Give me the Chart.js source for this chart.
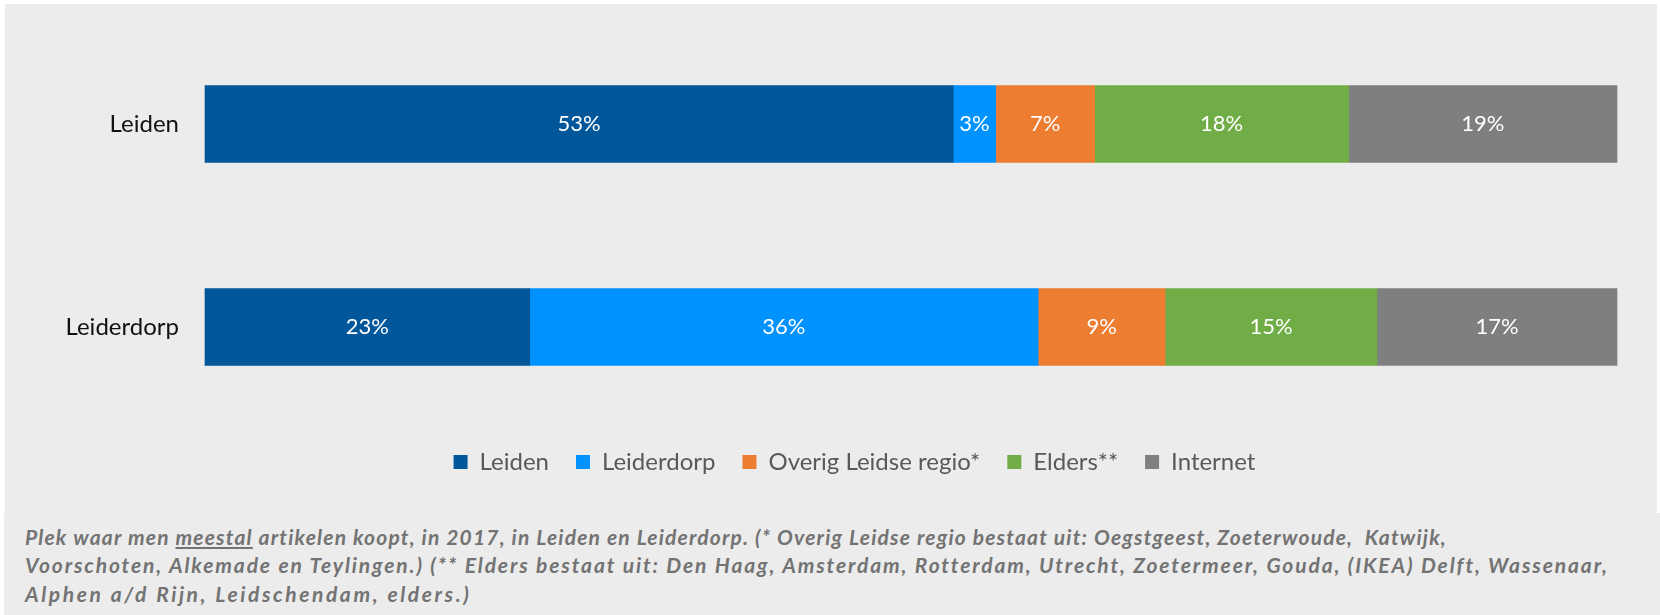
<!DOCTYPE html>
<html>
<head>
<meta charset="utf-8">
<script src="https://cdn.jsdelivr.net/npm/chart.js@4"></script>
<style>
  body { margin: 0; background: #fff; width: 1660px; height: 615px; position: relative; overflow: hidden; }
  #box { position: absolute; left: 5px; top: 4px; width: 1652px; height: 509px; background: #ececec; }
  #note {
    position: absolute; left: 4px; top: 513px; width: 1656px; height: 102px;
    background: #ececec; box-sizing: border-box; padding: 10px 0 0 21px;
    color: #737373; font-family: Lato, sans-serif; font-style: italic; font-weight: 700;
    font-size: 21px; line-height: 28.3px; white-space: pre;
  }
  #note span { display: block; }
</style>
</head>
<body>
<div id="box"><canvas id="chart"></canvas></div>
<div id="note"><span style="letter-spacing:1.18px">Plek waar men <u>meestal</u> artikelen koopt, in 2017, in Leiden en Leiderdorp. (* Overig Leidse regio bestaat uit: Oegstgeest, Zoeterwoude,  Katwijk,</span><span style="letter-spacing:1.87px">Voorschoten, Alkemade en Teylingen.) (** Elders bestaat uit: Den Haag, Amsterdam, Rotterdam, Utrecht, Zoetermeer, Gouda, (IKEA) Delft, Wassenaar,</span><span style="letter-spacing:2.6px">Alphen a/d Rijn, Leidschendam, elders.)</span></div>
<script>
// categories (rows) and the share per place of purchase, in percent
var categories = ['Leiden', 'Leiderdorp'];
var seriesNames = ['Leiden', 'Leiderdorp', 'Overig Leidse regio*', 'Elders**', 'Internet'];
var leiden = [53, 23];
var leiderdorp = [3, 36];
var overig = [7, 9];
var elders = [18, 15];
var internet = [19, 17];
var colors = ['#01579a', '#0092ff', '#ed7d31', '#70ad47', '#7f7f7f'];

var seriesValues = [leiden, leiderdorp, overig, elders, internet];

// white value labels in the middle of every segment
var valueLabels = {
    id: 'valueLabels',
    afterDatasetsDraw: function (chart) {
        var ctx = chart.ctx;
        ctx.save();
        ctx.fillStyle = '#ffffff';
        ctx.font = '22px Lato';
        ctx.textAlign = 'center';
        ctx.textBaseline = 'middle';
        chart.data.datasets.forEach(function (ds, i) {
            chart.getDatasetMeta(i).data.forEach(function (bar, j) {
                var p = bar.getCenterPoint();
                ctx.fillText(ds.data[j] + '%', p.x, p.y);
            });
        });
        ctx.restore();
    }
};

document.addEventListener('DOMContentLoaded', function () {
    Chart.defaults.font.family = 'Lato';

    // category labels are mirrored (so they are not clipped), then pulled
    // back left of the bars: right edge sits 26px left of the plot
    var m = document.createElement('canvas').getContext('2d');
    m.font = '24px Lato';
    var widest = Math.max.apply(null, categories.map(function (c) { return m.measureText(c).width; }));

    var ctx = document.getElementById('chart').getContext('2d');
    new Chart(ctx, {
        type: 'bar',
        data: {
            labels: categories,
            datasets: seriesNames.map(function (name, i) {
                return {
                    label: name,
                    data: seriesValues[i],
                    backgroundColor: colors[i],
                    borderWidth: 0,
                    barThickness: 77,
                    clip: false
                };
            })
        },
        options: {
            indexAxis: 'y',
            responsive: true,
            maintainAspectRatio: false,
            animation: false,
            layout: { padding: { left: 87, right: 40, top: 120, bottom: 29 } },
            scales: {
                x: {
                    stacked: true, min: 0, max: 100,
                    ticks: { display: false },
                    grid: { display: false, drawTicks: false },
                    border: { display: false },
                    afterFit: function (s) { s.height = 96; }
                },
                y: {
                    stacked: true,
                    offset: false,
                    grid: { display: false, drawTicks: false },
                    border: { display: false },
                    ticks: {
                        color: '#111111', font: { size: 24 },
                        mirror: true, crossAlign: 'far',
                        padding: -(26 + widest)
                    },
                    afterFit: function (s) { s.width = 113; }
                }
            },
            plugins: {
                legend: {
                    position: 'bottom',
                    labels: {
                        color: '#595959',
                        font: { size: 24 },
                        boxWidth: 14,
                        boxHeight: 14,
                        padding: 27
                    }
                },
                tooltip: { enabled: false }
            }
        },
        plugins: [valueLabels]
    });
});
</script>
</body>
</html>
